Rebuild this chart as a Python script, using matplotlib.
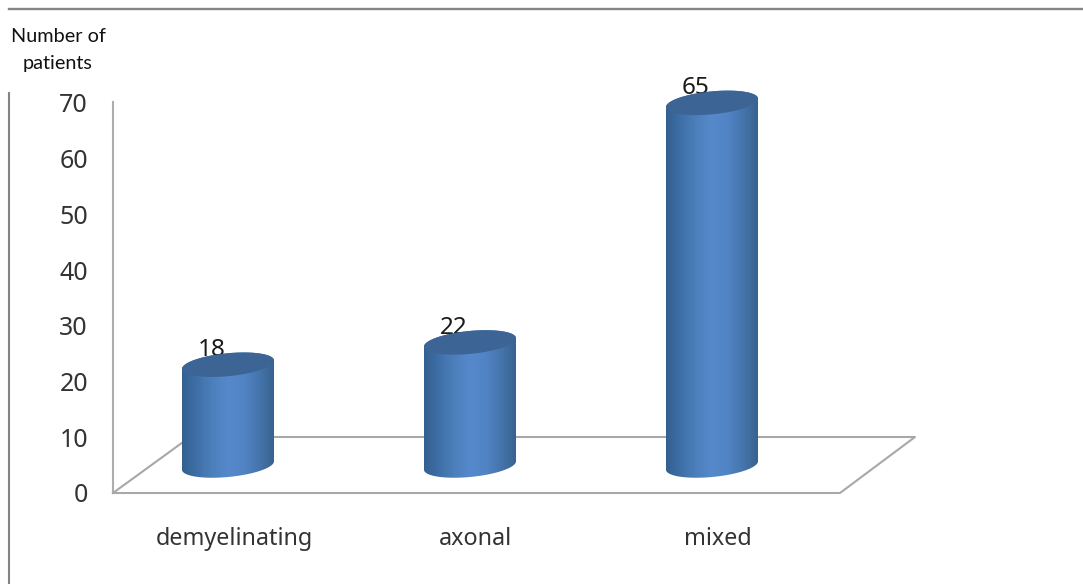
import matplotlib
matplotlib.use('Agg')
import matplotlib.pyplot as plt
import numpy as np
from matplotlib.colors import LinearSegmentedColormap
from matplotlib.patches import Polygon

categories = ['demyelinating', 'axonal', 'mixed']
patients = [18, 22, 65]
y_ticks = [0, 10, 20, 30, 40, 50, 60, 70]

W, H = 1083, 584
fig = plt.figure(figsize=(W / 100, H / 100), dpi=100)

# frame and floor are drawn in pixels, on their own axes
bg = fig.add_axes([0, 0, 1, 1])
bg.set_xlim(0, W)
bg.set_ylim(H, 0)
bg.axis('off')
bg.plot([9, W], [8.5, 8.5], color='#858585', lw=1.7)
bg.plot([9, 9], [93, H], color='#858585', lw=1.5)
bg.plot([113, 113], [102, 492], color='#adadad', lw=1.5)
bg.plot([113, 840, 915, 190, 113], [493, 493, 437, 437, 493], color='#a8a8a8', lw=1.5)

bg.text(58, 36, 'Number of', ha='center', va='center', fontsize=14.3, family='Lato', color='#111111')
bg.text(58, 63, 'patients', ha='center', va='center', fontsize=14.3, family='Lato', color='#111111')

# data axes: same box, 242 px per category, 5.57 px per patient
px_x, px_y = 242, 390 / 70
ax = fig.add_axes([0, 0, 1, 1])
ax.patch.set_alpha(0)
ax.set_xlim(-228 / px_x, (W - 228) / px_x)
ax.set_ylim((492 - H) / px_y, 492 / px_y)
ax.axis('off')

cmap = LinearSegmentedColormap.from_list('cyl', [
    (0.0, '#33608f'), (0.15, '#3d6ea6'), (0.3, '#4a7db8'), (0.5, '#5689cc'),
    (0.68, '#5184c4'), (0.85, '#4574ab'), (1.0, '#38638f')])
grad = np.linspace(0, 1, 256).reshape(1, -1)

half_w = 46 / px_x
half_h = 11.5 / px_y
tilt = 4.2 / px_y
base = 26.5 / px_y  # floor depth offset of the cylinder base
t = np.linspace(0, 2 * np.pi, 120)


def rim(x, y, ts):
    return x + half_w * np.cos(ts), y + half_h * np.sin(ts) + tilt * np.cos(ts)


for i, (name, val) in enumerate(zip(categories, patients)):
    top = base + val + 0.5 / px_y
    # lower half of base rim, then the far half of the top rim
    xb, yb = rim(i, base, np.linspace(np.pi, 2 * np.pi, 60))
    xt, yt = rim(i, top, np.linspace(0, np.pi, 60))
    body = Polygon(np.column_stack([np.r_[xb, xt], np.r_[yb, yt]]), closed=True, fc='none', ec='none', transform=ax.transData)
    ax.add_patch(body)
    im = ax.imshow(grad, cmap=cmap, extent=[i - half_w, i + half_w, base - 5, top + 5], aspect='auto', zorder=3)
    im.set_clip_path(body)
    # value label sits behind the cylinder lid
    ax.text(i - 16 / px_x, top + 14.5 / px_y, str(val), ha='center', va='center', fontsize=17.5, family='Noto Sans', color='#1a1a1a', zorder=4)
    xl, yl = rim(i, top, t)
    ax.fill(xl, yl, color='#3c6596', lw=0, zorder=5)
    ax.text(i + 6 / px_x, -8.4, name, ha='center', va='center', fontsize=16.8, family='Noto Sans', color='#333333')

ax.set_xlim(-228 / px_x, (W - 228) / px_x)
ax.set_ylim((492 - H) / px_y, 492 / px_y)

for v in y_ticks:
    ax.text(-140 / px_x, v - 0.7, str(v), ha='right', va='center', fontsize=18, family='Noto Sans', color='#333333')

fig.savefig('out.png', dpi=100)
